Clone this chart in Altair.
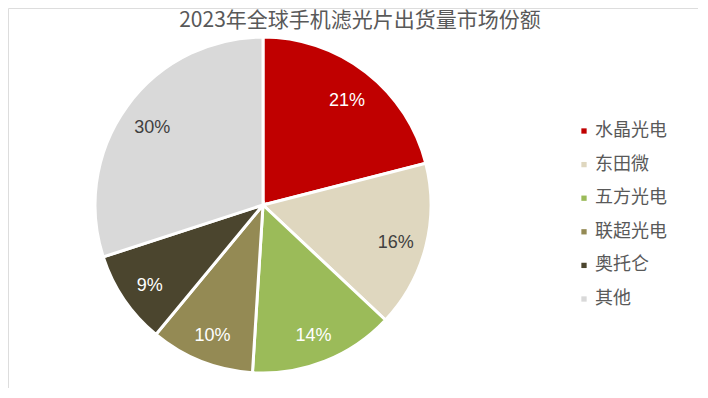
import altair as alt
import pandas as pd

companies = ["水晶光电", "东田微", "五方光电", "联超光电", "奥托仑", "其他"]
shares = [21, 16, 14, 10, 9, 30]
labels = ["21%", "16%", "14%", "10%", "9%", "30%"]
colors = ["#C00000", "#DFD7BF", "#9BBB59", "#948A54", "#4B452E", "#D9D9D9"]
label_colors = ["#FFFFFF", "#404040", "#FFFFFF", "#FFFFFF", "#FFFFFF", "#404040"]
title_text = "2023年全球手机滤光片出货量市场份额"

df = pd.DataFrame({
    "company": companies,
    "share": shares,
    "label": labels,
    "lcolor": label_colors,
    "idx": list(range(len(companies))),
})

FONT = "Noto Sans CJK SC"
CX, CY, R = 255, 197, 168

base = alt.Chart(df).encode(
    theta=alt.Theta("share:Q", stack=True),
    order=alt.Order("idx:Q", sort="ascending"),
)

pie = base.mark_arc(stroke="white", strokeWidth=3, outerRadius=R).encode(
    x=alt.value(CX),
    y=alt.value(CY),
    color=alt.Color(
        "company:N",
        scale=alt.Scale(domain=companies, range=colors),
        sort=companies,
        legend=alt.Legend(
            title=None,
            orient="none",
            legendX=567,
            legendY=114,
            symbolType="square",
            symbolSize=28,
            symbolStrokeWidth=0,
            labelFont=FONT,
            labelFontSize=18,
            labelColor="#595959",
            rowPadding=15.6,
            labelOffset=2,
        ),
    ),
)

text = base.mark_text(radius=137, dy=4, font="Liberation Sans", fontSize=18).encode(
    x=alt.value(CX),
    y=alt.value(CY),
    text="label:N",
    color=alt.Color("lcolor:N", scale=None),
)

title = alt.Chart(pd.DataFrame({"t": [title_text]})).mark_text(
    font=FONT, fontSize=21, color="#595959", align="center", baseline="top"
).encode(x=alt.value(352), y=alt.value(2), text="t:N")

chart = (
    alt.layer(pie, text, title)
    .properties(width=690, height=380, padding=0, autosize=alt.AutoSizeParams(type="none"))
    .configure_view(strokeWidth=0, stroke="transparent")
    .configure(background="white")
)

chart.save("out.html", embed_options={"renderer": "svg", "actions": False})
